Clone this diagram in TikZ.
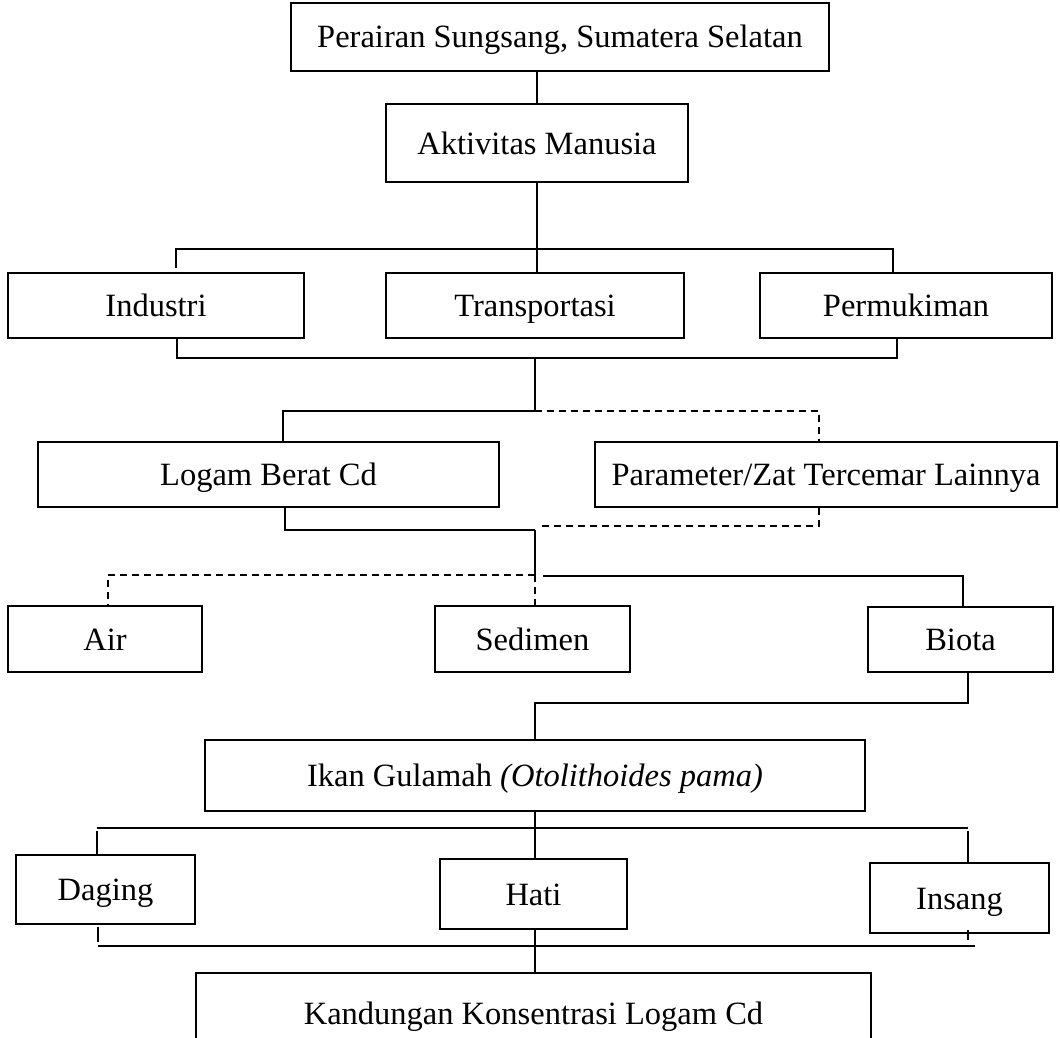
\documentclass[tikz,border=0pt]{standalone}
\usepackage{fontspec}
\setmainfont{Liberation Serif}
\begin{document}
\begin{tikzpicture}[x=1pt,y=-1pt,
  box/.style={draw=black,line width=2pt,rectangle,inner sep=0pt,
    text height=24pt,text depth=2pt,
    font=\fontsize{32.5}{39}\selectfont},
  conn/.style={draw=black,line width=1.6pt},
  dconn/.style={draw=black,line width=1.6pt,dash pattern=on 7pt off 5pt}]
\useasboundingbox (0,0) rectangle (1060,1038);
% boxes
\node[box,minimum width=538pt,minimum height=68pt] (top) at (560,37) {Perairan Sungsang, Sumatera Selatan};
\node[box,minimum width=302pt,minimum height=78pt] (akt) at (537,143) {Aktivitas Manusia};
\node[box,minimum width=296pt,minimum height=65pt] (ind) at (156,305.5) {Industri};
\node[box,minimum width=298pt,minimum height=65pt] (tra) at (535,305.5) {Transportasi};
\node[box,minimum width=292pt,minimum height=65pt] (per) at (906,305.5) {Permukiman};
\node[box,minimum width=461pt,minimum height=65pt] (log) at (268.5,474.5) {Logam Berat Cd};
\node[box,minimum width=462pt,minimum height=65pt] (par) at (826,474.5) {Parameter/Zat Tercemar Lainnya};
\node[box,minimum width=194pt,minimum height=66pt] (air) at (105,639) {Air};
\node[box,minimum width=195pt,minimum height=66pt] (sed) at (532.5,639) {Sedimen};
\node[box,minimum width=185pt,minimum height=65pt] (bio) at (960.5,639.5) {Biota};
\node[box,minimum width=660pt,minimum height=71pt] (ikan) at (535,775.5) {Ikan Gulamah \textit{(Otolithoides pama)}};
\node[box,minimum width=179pt,minimum height=69pt] (dag) at (105.5,889.5) {Daging};
\node[box,minimum width=187pt,minimum height=70pt] (hat) at (533.5,894) {Hati};
\node[box,minimum width=179pt,minimum height=70pt] (ins) at (959.5,898) {Insang};
\node[box,minimum width=675pt,minimum height=80pt] (kan) at (533.5,1013) {Kandungan Konsentrasi Logam Cd};
% bar coordinates
\coordinate (a1) at (176,249);
\coordinate (a2) at (893,249);
\coordinate (b1) at (177,358);
\coordinate (b2) at (897,358);
\coordinate (bm) at (535,358);
\coordinate (c1) at (283,411);
\coordinate (cm) at (535,411);
\coordinate (c2) at (819,411);
\coordinate (d1) at (285,530);
\coordinate (dm) at (535,530);
\coordinate (d2) at (819,530);
\coordinate (e1) at (108,575);
\coordinate (em) at (535,575);
\coordinate (e3) at (543,576);
\coordinate (e2) at (963,576);
\coordinate (f1) at (535,703);
\coordinate (f2) at (968,703);
\coordinate (g1) at (97,828);
\coordinate (gm) at (535,828);
\coordinate (g2) at (968,828);
\coordinate (h1) at (98,946);
\coordinate (hm) at (535,946);
\coordinate (h2) at (968,946);
% connectors
\draw[conn] (akt.north) -- (akt.north |- top.south);
\draw[conn] (akt.south) -- (akt.south |- tra.north);
\draw[conn] ([yshift=4pt]a1 |- ind.north) -- (a1) -- (a2) -- (a2 |- per.north);
\draw[conn] (b1 |- ind.south) -- (b1) -- (b2) -- (b2 |- per.south);
\draw[conn] (bm) -- (cm);
\draw[conn] (c1 |- log.north) -- (c1) -- (cm);
\draw[dconn] (cm) -- (c2) -- (c2 |- par.north);
\draw[conn] (d1 |- log.south) -- (d1) -- (dm);
\draw[dconn] (par.south -| d2) -- ([yshift=4pt]d2) -- ([xshift=5pt,yshift=4pt]dm);
\draw[conn] (dm) -- (em);
\draw[dconn] (em) -- (e1) -- (e1 |- air.north);
\draw[dconn] (em) -- (em |- sed.north);
\draw[conn] (e3) -- (e2) -- (e2 |- bio.north);
\draw[conn] (f2 |- bio.south) -- (f2) -- (f1) -- (f1 |- ikan.north);
\draw[conn] (gm |- ikan.south) -- (gm |- hat.north);
\draw[conn] (g1 |- dag.north) -- ([yshift=-3pt]g1) ;
\draw[conn] (g1) -- (g2);
\draw[conn] ([yshift=-3pt]g2) -- (g2 |- ins.north);
\draw[conn] ([yshift=-2pt]h1 |- dag.south) -- ([yshift=4pt]h1);
\draw[conn] (h1) -- ([xshift=7pt]h2);
\draw[conn] ([yshift=4pt]h2 |- ins.south) -- ([yshift=6pt]h2);
\draw[conn] (hm |- hat.south) -- (hm |- kan.north);
\end{tikzpicture}
\end{document}
